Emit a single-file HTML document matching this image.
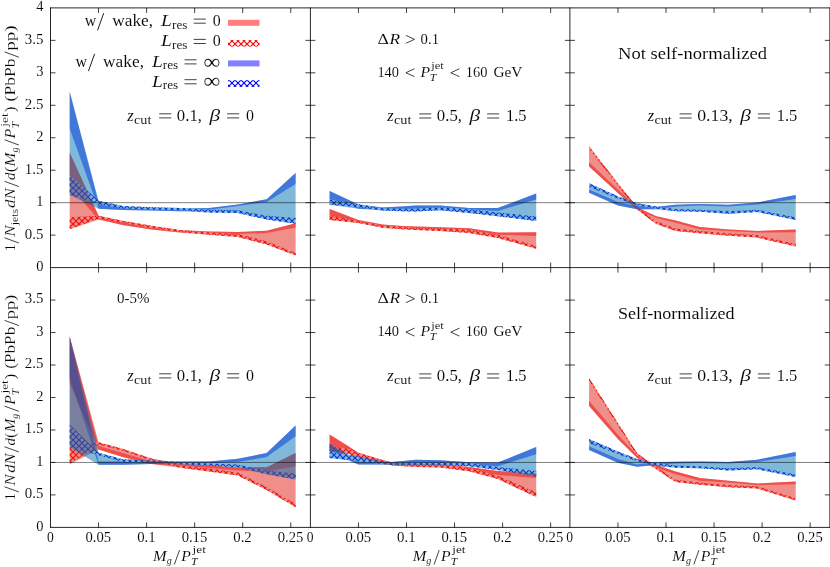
<!DOCTYPE html>
<html><head><meta charset="utf-8"><title>chart</title>
<style>html,body{margin:0;padding:0;background:#fff}svg{display:block}text{font-family:"Liberation Serif",serif}</style></head>
<body>
<svg width="830" height="567" viewBox="0 0 830 567">
<defs>
<pattern id="hr" width="6" height="6" patternUnits="userSpaceOnUse" patternTransform="translate(1.0,2.0)"><path d="M-1,-1L7,7M-1,7L7,-1" stroke="#ff0000" stroke-width="1.15" fill="none"/></pattern>
<pattern id="hb" width="6" height="6" patternUnits="userSpaceOnUse" patternTransform="translate(1.0,2.0)"><path d="M-1,-1L7,7M-1,7L7,-1" stroke="#0000ff" stroke-width="1.15" fill="none"/></pattern>
</defs>
<rect width="830" height="567" fill="#fff"/>
<polygon points="69.7,152.7 98.6,215.7 122.6,222.2 151.4,226.7 180.2,230.3 209.1,231.5 237.9,232.0 266.7,230.7 295.6,223.2 295.6,227.5 266.7,233.0 237.9,234.0 209.1,233.8 180.2,232.6 151.4,229.6 122.6,225.0 98.6,219.6 69.7,186.4" fill="#ff0000" fill-opacity="0.50"/>
<polygon points="69.7,217.2 98.6,215.7 122.6,220.7 151.4,225.7 180.2,229.9 209.1,232.5 237.9,234.0 266.7,241.2 295.6,253.0 295.6,255.6 266.7,244.6 237.9,236.9 209.1,234.7 180.2,232.0 151.4,227.9 122.6,222.8 98.6,218.6 69.7,229.3" fill="#fff"/><polygon points="69.7,217.2 98.6,215.7 122.6,220.7 151.4,225.7 180.2,229.9 209.1,232.5 237.9,234.0 266.7,241.2 295.6,253.0 295.6,255.6 266.7,244.6 237.9,236.9 209.1,234.7 180.2,232.0 151.4,227.9 122.6,222.8 98.6,218.6 69.7,229.3" fill="url(#hr)"/>
<polygon points="69.7,91.7 98.6,203.0 122.6,207.5 151.4,208.5 180.2,209.2 209.1,207.9 237.9,204.4 266.7,199.2 295.6,173.0 295.6,184.0 266.7,202.0 237.9,206.0 209.1,209.8 180.2,211.2 151.4,210.6 122.6,210.1 98.6,208.8 69.7,128.7" fill="#0000ff" fill-opacity="0.50"/>
<polygon points="69.7,174.8 98.6,200.7 122.6,206.0 151.4,207.3 180.2,208.1 209.1,209.8 237.9,210.3 266.7,215.7 295.6,217.9 295.6,223.8 266.7,219.6 237.9,213.1 209.1,212.5 180.2,210.2 151.4,209.4 122.6,208.5 98.6,204.3 69.7,194.9" fill="#fff"/><polygon points="69.7,174.8 98.6,200.7 122.6,206.0 151.4,207.3 180.2,208.1 209.1,209.8 237.9,210.3 266.7,215.7 295.6,217.9 295.6,223.8 266.7,219.6 237.9,213.1 209.1,212.5 180.2,210.2 151.4,209.4 122.6,208.5 98.6,204.3 69.7,194.9" fill="url(#hb)"/>
<polygon points="69.7,152.7 98.6,215.7 122.6,220.7 151.4,225.7 180.2,229.9 209.1,231.5 237.9,232.0 266.7,230.7 295.6,223.2 295.6,255.6 266.7,244.6 237.9,236.9 209.1,234.7 180.2,232.6 151.4,229.6 122.6,225.0 98.6,219.6 69.7,229.3" fill="#e11e14" fill-opacity="0.50"/>
<polygon points="69.7,91.7 98.6,200.7 122.6,206.0 151.4,207.3 180.2,208.1 209.1,207.9 237.9,204.4 266.7,199.2 295.6,173.0 295.6,223.8 266.7,219.6 237.9,213.1 209.1,212.5 180.2,211.2 151.4,210.6 122.6,210.1 98.6,208.8 69.7,194.9" fill="#0071b3" fill-opacity="0.50"/>
<polygon points="329.6,209.0 358.4,219.9 382.5,224.4 401.7,226.0 416.1,226.6 440.1,227.2 469.0,228.3 497.8,232.6 536.2,232.2 536.2,235.9 497.8,234.7 469.0,230.1 440.1,228.6 416.1,228.5 401.7,228.0 382.5,226.4 358.4,222.2 329.6,215.7" fill="#ff0000" fill-opacity="0.50"/>
<polygon points="329.6,215.7 358.4,220.9 382.5,225.4 401.7,227.0 416.1,227.7 440.1,228.0 469.0,230.1 497.8,234.7 536.2,246.0 536.2,248.8 497.8,238.0 469.0,233.1 440.1,230.9 416.1,229.9 401.7,229.3 382.5,227.7 358.4,223.1 329.6,219.9" fill="#fff"/><polygon points="329.6,215.7 358.4,220.9 382.5,225.4 401.7,227.0 416.1,227.7 440.1,228.0 469.0,230.1 497.8,234.7 536.2,246.0 536.2,248.8 497.8,238.0 469.0,233.1 440.1,230.9 416.1,229.9 401.7,229.3 382.5,227.7 358.4,223.1 329.6,219.9" fill="url(#hr)"/>
<polygon points="329.6,190.9 358.4,204.8 382.5,207.6 401.7,206.6 416.1,205.4 440.1,205.4 469.0,207.9 497.8,208.1 536.2,193.4 536.2,199.6 497.8,210.9 469.0,209.2 440.1,207.6 416.1,208.7 401.7,209.2 382.5,209.5 358.4,208.8 329.6,198.9" fill="#0000ff" fill-opacity="0.50"/>
<polygon points="329.6,199.6 358.4,204.3 382.5,208.2 401.7,208.8 416.1,208.7 440.1,207.3 469.0,209.2 497.8,212.5 536.2,216.6 536.2,220.9 497.8,216.3 469.0,213.1 440.1,210.3 416.1,211.4 401.7,211.2 382.5,210.5 358.4,207.2 329.6,204.8" fill="#fff"/><polygon points="329.6,199.6 358.4,204.3 382.5,208.2 401.7,208.8 416.1,208.7 440.1,207.3 469.0,209.2 497.8,212.5 536.2,216.6 536.2,220.9 497.8,216.3 469.0,213.1 440.1,210.3 416.1,211.4 401.7,211.2 382.5,210.5 358.4,207.2 329.6,204.8" fill="url(#hb)"/>
<polygon points="329.6,209.0 358.4,219.9 382.5,224.4 401.7,226.0 416.1,226.6 440.1,227.2 469.0,228.3 497.8,232.6 536.2,232.2 536.2,248.8 497.8,238.0 469.0,233.1 440.1,230.9 416.1,229.9 401.7,229.3 382.5,227.7 358.4,223.1 329.6,219.9" fill="#e11e14" fill-opacity="0.50"/>
<polygon points="329.6,190.9 358.4,204.3 382.5,207.6 401.7,206.6 416.1,205.4 440.1,205.4 469.0,207.9 497.8,208.1 536.2,193.4 536.2,220.9 497.8,216.3 469.0,213.1 440.1,210.3 416.1,211.4 401.7,211.2 382.5,210.5 358.4,208.8 329.6,204.8" fill="#0071b3" fill-opacity="0.50"/>
<polygon points="589.1,162.2 617.9,189.5 637.2,207.5 656.4,216.2 675.6,220.5 699.6,227.0 728.5,229.4 757.3,231.0 795.7,229.4 795.7,232.2 757.3,232.5 728.5,230.9 699.6,229.2 675.6,222.7 656.4,217.9 637.2,209.5 617.9,193.1 589.1,166.6" fill="#ff0000" fill-opacity="0.50"/>
<polygon points="589.1,146.3 617.9,183.2 637.2,207.2 656.4,221.6 675.6,228.6 699.6,230.9 728.5,233.2 757.3,235.1 795.7,243.9 795.7,246.4 757.3,237.6 728.5,235.7 699.6,233.2 675.6,231.0 656.4,224.0 637.2,209.7 617.9,185.8 589.1,148.9" fill="#fff"/><polygon points="589.1,146.3 617.9,183.2 637.2,207.2 656.4,221.6 675.6,228.6 699.6,230.9 728.5,233.2 757.3,235.1 795.7,243.9 795.7,246.4 757.3,237.6 728.5,235.7 699.6,233.2 675.6,231.0 656.4,224.0 637.2,209.7 617.9,185.8 589.1,148.9" fill="url(#hr)"/>
<polygon points="589.1,189.5 617.9,201.9 637.2,205.9 656.4,206.9 675.6,204.8 699.6,204.0 728.5,204.8 757.3,202.5 795.7,194.9 795.7,198.9 757.3,204.4 728.5,206.4 699.6,205.5 675.6,206.4 656.4,209.2 637.2,209.2 617.9,205.4 589.1,192.7" fill="#0000ff" fill-opacity="0.50"/>
<polygon points="589.1,183.3 617.9,196.2 637.2,203.3 656.4,206.4 675.6,209.1 699.6,209.7 728.5,211.2 757.3,209.8 795.7,217.3 795.7,219.9 757.3,212.1 728.5,213.7 699.6,211.8 675.6,211.3 656.4,208.8 637.2,205.6 617.9,198.5 589.1,186.9" fill="#fff"/><polygon points="589.1,183.3 617.9,196.2 637.2,203.3 656.4,206.4 675.6,209.1 699.6,209.7 728.5,211.2 757.3,209.8 795.7,217.3 795.7,219.9 757.3,212.1 728.5,213.7 699.6,211.8 675.6,211.3 656.4,208.8 637.2,205.6 617.9,198.5 589.1,186.9" fill="url(#hb)"/>
<polygon points="589.1,146.3 617.9,183.2 637.2,207.2 656.4,216.2 675.6,220.5 699.6,227.0 728.5,229.4 757.3,231.0 795.7,229.4 795.7,246.4 757.3,237.6 728.5,235.7 699.6,233.2 675.6,231.0 656.4,224.0 637.2,209.7 617.9,193.1 589.1,166.6" fill="#e11e14" fill-opacity="0.50"/>
<polygon points="589.1,183.3 617.9,196.2 637.2,203.3 656.4,206.4 675.6,204.8 699.6,204.0 728.5,204.8 757.3,202.5 795.7,194.9 795.7,219.9 757.3,212.1 728.5,213.7 699.6,211.8 675.6,211.3 656.4,209.2 637.2,209.2 617.9,205.4 589.1,192.7" fill="#0071b3" fill-opacity="0.50"/>
<polygon points="69.7,336.4 98.6,445.9 122.6,453.0 151.4,461.2 180.2,463.5 209.1,465.4 237.9,467.2 266.7,467.2 295.6,453.1 295.6,466.3 266.7,471.6 237.9,470.6 209.1,468.1 180.2,465.9 151.4,464.1 122.6,456.9 98.6,449.5 69.7,383.2" fill="#ff0000" fill-opacity="0.50"/>
<polygon points="69.7,447.4 98.6,442.3 122.6,448.8 151.4,458.6 180.2,465.4 209.1,468.6 237.9,472.5 266.7,487.1 295.6,504.0 295.6,507.3 266.7,490.1 237.9,475.4 209.1,471.4 180.2,467.8 151.4,460.5 122.6,450.8 98.6,444.4 69.7,464.3" fill="#fff"/><polygon points="69.7,447.4 98.6,442.3 122.6,448.8 151.4,458.6 180.2,465.4 209.1,468.6 237.9,472.5 266.7,487.1 295.6,504.0 295.6,507.3 266.7,490.1 237.9,475.4 209.1,471.4 180.2,467.8 151.4,460.5 122.6,450.8 98.6,444.4 69.7,464.3" fill="url(#hr)"/>
<polygon points="69.7,337.1 98.6,461.4 122.6,461.4 151.4,461.7 180.2,461.6 209.1,461.6 237.9,458.7 266.7,453.1 295.6,425.4 295.6,436.3 266.7,457.1 237.9,461.9 209.1,463.2 180.2,463.5 151.4,464.1 122.6,464.7 98.6,464.7 69.7,378.0" fill="#0000ff" fill-opacity="0.50"/>
<polygon points="69.7,424.8 98.6,452.7 122.6,459.2 151.4,460.5 180.2,462.1 209.1,463.5 237.9,464.5 266.7,470.7 295.6,473.4 295.6,479.5 266.7,474.3 237.9,467.2 209.1,465.7 180.2,464.3 151.4,462.8 122.6,461.7 98.6,455.3 69.7,447.4" fill="#fff"/><polygon points="69.7,424.8 98.6,452.7 122.6,459.2 151.4,460.5 180.2,462.1 209.1,463.5 237.9,464.5 266.7,470.7 295.6,473.4 295.6,479.5 266.7,474.3 237.9,467.2 209.1,465.7 180.2,464.3 151.4,462.8 122.6,461.7 98.6,455.3 69.7,447.4" fill="url(#hb)"/>
<polygon points="69.7,336.4 98.6,442.3 122.6,448.8 151.4,458.6 180.2,463.5 209.1,465.4 237.9,467.2 266.7,467.2 295.6,453.1 295.6,507.3 266.7,490.1 237.9,475.4 209.1,471.4 180.2,467.8 151.4,464.1 122.6,456.9 98.6,449.5 69.7,464.3" fill="#e11e14" fill-opacity="0.50"/>
<polygon points="69.7,337.1 98.6,452.7 122.6,459.2 151.4,460.5 180.2,461.6 209.1,461.6 237.9,458.7 266.7,453.1 295.6,425.4 295.6,479.5 266.7,474.3 237.9,467.2 209.1,465.7 180.2,464.3 151.4,464.1 122.6,464.7 98.6,464.7 69.7,447.4" fill="#0071b3" fill-opacity="0.50"/>
<polygon points="329.6,434.5 348.8,446.6 358.4,452.7 382.5,459.9 392.1,462.4 416.1,463.7 440.1,464.1 469.0,467.0 497.8,470.9 536.2,473.3 536.2,478.0 497.8,474.9 469.0,469.9 440.1,466.3 416.1,466.0 392.1,464.7 382.5,462.4 358.4,456.0 348.8,454.0 329.6,450.1" fill="#ff0000" fill-opacity="0.50"/>
<polygon points="329.6,445.6 348.8,449.1 358.4,452.7 382.5,460.2 392.1,462.8 416.1,464.1 440.1,464.5 469.0,467.7 497.8,475.7 536.2,492.3 536.2,497.1 497.8,479.1 469.0,471.2 440.1,467.5 416.1,467.0 392.1,465.4 382.5,463.4 358.4,457.3 348.8,454.0 329.6,451.1" fill="#fff"/><polygon points="329.6,445.6 348.8,449.1 358.4,452.7 382.5,460.2 392.1,462.8 416.1,464.1 440.1,464.5 469.0,467.7 497.8,475.7 536.2,492.3 536.2,497.1 497.8,479.1 469.0,471.2 440.1,467.5 416.1,467.0 392.1,465.4 382.5,463.4 358.4,457.3 348.8,454.0 329.6,451.1" fill="url(#hr)"/>
<polygon points="329.6,443.8 348.8,456.0 358.4,462.1 382.5,461.8 392.1,462.1 416.1,459.7 440.1,460.2 469.0,462.2 497.8,462.6 536.2,447.1 536.2,454.2 497.8,466.2 469.0,464.5 440.1,462.9 416.1,462.4 392.1,464.7 382.5,464.5 358.4,464.5 348.8,460.2 329.6,451.4" fill="#0000ff" fill-opacity="0.50"/>
<polygon points="329.6,451.4 348.8,454.7 358.4,456.3 382.5,461.3 392.1,462.4 416.1,462.4 440.1,461.9 469.0,463.0 497.8,467.0 536.2,470.9 536.2,476.4 497.8,470.1 469.0,466.2 440.1,465.0 416.1,465.0 392.1,464.9 382.5,464.1 358.4,461.2 348.8,460.1 329.6,457.9" fill="#fff"/><polygon points="329.6,451.4 348.8,454.7 358.4,456.3 382.5,461.3 392.1,462.4 416.1,462.4 440.1,461.9 469.0,463.0 497.8,467.0 536.2,470.9 536.2,476.4 497.8,470.1 469.0,466.2 440.1,465.0 416.1,465.0 392.1,464.9 382.5,464.1 358.4,461.2 348.8,460.1 329.6,457.9" fill="url(#hb)"/>
<polygon points="329.6,434.5 348.8,446.6 358.4,452.7 382.5,459.9 392.1,462.4 416.1,463.7 440.1,464.1 469.0,467.0 497.8,470.9 536.2,473.3 536.2,497.1 497.8,479.1 469.0,471.2 440.1,467.5 416.1,467.0 392.1,465.4 382.5,463.4 358.4,457.3 348.8,454.0 329.6,451.1" fill="#e11e14" fill-opacity="0.50"/>
<polygon points="329.6,443.8 348.8,454.7 358.4,456.3 382.5,461.3 392.1,462.1 416.1,459.7 440.1,460.2 469.0,462.2 497.8,462.6 536.2,447.1 536.2,476.4 497.8,470.1 469.0,466.2 440.1,465.0 416.1,465.0 392.1,464.9 382.5,464.5 358.4,464.5 348.8,460.2 329.6,457.9" fill="#0071b3" fill-opacity="0.50"/>
<polygon points="589.1,400.8 617.9,434.7 637.2,455.3 650.9,463.1 675.6,471.6 699.6,478.1 728.5,480.7 757.3,483.6 795.7,481.4 795.7,484.3 757.3,485.1 728.5,482.5 699.6,480.8 675.6,474.3 650.9,465.4 637.2,458.0 617.9,438.9 589.1,406.1" fill="#ff0000" fill-opacity="0.50"/>
<polygon points="589.1,378.1 617.9,423.0 637.2,453.2 650.9,463.4 675.6,479.7 699.6,482.5 728.5,484.9 757.3,486.2 795.7,498.2 795.7,500.6 757.3,488.6 728.5,487.2 699.6,484.8 675.6,482.1 650.9,465.8 637.2,455.8 617.9,425.7 589.1,380.8" fill="#fff"/><polygon points="589.1,378.1 617.9,423.0 637.2,453.2 650.9,463.4 675.6,479.7 699.6,482.5 728.5,484.9 757.3,486.2 795.7,498.2 795.7,500.6 757.3,488.6 728.5,487.2 699.6,484.8 675.6,482.1 650.9,465.8 637.2,455.8 617.9,425.7 589.1,380.8" fill="url(#hr)"/>
<polygon points="589.1,446.3 617.9,459.0 637.2,464.5 650.9,462.4 675.6,461.8 699.6,461.6 728.5,461.9 757.3,459.7 795.7,452.1 795.7,456.1 757.3,461.9 728.5,463.6 699.6,463.1 675.6,463.4 650.9,465.4 637.2,466.7 617.9,462.8 589.1,450.1" fill="#0000ff" fill-opacity="0.50"/>
<polygon points="589.1,438.9 617.9,451.6 637.2,459.1 650.9,462.1 675.6,465.6 699.6,466.2 728.5,468.3 757.3,467.0 795.7,474.5 795.7,477.1 757.3,469.3 728.5,470.6 699.6,468.3 675.6,467.8 650.9,464.7 637.2,461.3 617.9,454.0 589.1,443.2" fill="#fff"/><polygon points="589.1,438.9 617.9,451.6 637.2,459.1 650.9,462.1 675.6,465.6 699.6,466.2 728.5,468.3 757.3,467.0 795.7,474.5 795.7,477.1 757.3,469.3 728.5,470.6 699.6,468.3 675.6,467.8 650.9,464.7 637.2,461.3 617.9,454.0 589.1,443.2" fill="url(#hb)"/>
<polygon points="589.1,378.1 617.9,423.0 637.2,453.2 650.9,463.1 675.6,471.6 699.6,478.1 728.5,480.7 757.3,483.6 795.7,481.4 795.7,500.6 757.3,488.6 728.5,487.2 699.6,484.8 675.6,482.1 650.9,465.8 637.2,458.0 617.9,438.9 589.1,406.1" fill="#e11e14" fill-opacity="0.50"/>
<polygon points="589.1,438.9 617.9,451.6 637.2,459.1 650.9,462.1 675.6,461.8 699.6,461.6 728.5,461.9 757.3,459.7 795.7,452.1 795.7,477.1 757.3,469.3 728.5,470.6 699.6,468.3 675.6,467.8 650.9,465.4 637.2,466.7 617.9,462.8 589.1,450.1" fill="#0071b3" fill-opacity="0.50"/>
<path d="M50.5,202.68H829.9" stroke="#000" stroke-width="0.5"/>
<path d="M50.5,462.45H829.9" stroke="#000" stroke-width="0.5"/>
<path d="M50.10,7.90H830.25M50.10,267.60H830.25M50.10,527.40H830.25M50.50,7.50V527.80M310.40,7.50V527.80M569.90,7.50V527.80M829.85,7.50V527.80" stroke="#000" stroke-width="0.85" fill="none"/>
<path d="M98.55,7.90v5.00M98.55,262.60v10.00M98.55,527.40v-5.00M146.60,7.90v5.00M146.60,262.60v10.00M146.60,527.40v-5.00M194.65,7.90v5.00M194.65,262.60v10.00M194.65,527.40v-5.00M242.70,7.90v5.00M242.70,262.60v10.00M242.70,527.40v-5.00M290.75,7.90v5.00M290.75,262.60v10.00M290.75,527.40v-5.00M358.45,7.90v5.00M358.45,262.60v10.00M358.45,527.40v-5.00M406.50,7.90v5.00M406.50,262.60v10.00M406.50,527.40v-5.00M454.55,7.90v5.00M454.55,262.60v10.00M454.55,527.40v-5.00M502.60,7.90v5.00M502.60,262.60v10.00M502.60,527.40v-5.00M550.65,7.90v5.00M550.65,262.60v10.00M550.65,527.40v-5.00M617.95,7.90v5.00M617.95,262.60v10.00M617.95,527.40v-5.00M666.00,7.90v5.00M666.00,262.60v10.00M666.00,527.40v-5.00M714.05,7.90v5.00M714.05,262.60v10.00M714.05,527.40v-5.00M762.10,7.90v5.00M762.10,262.60v10.00M762.10,527.40v-5.00M810.15,7.90v5.00M810.15,262.60v10.00M810.15,527.40v-5.00M50.50,235.14h5.00M305.40,235.14h10.00M564.90,235.14h10.00M829.85,235.14h-5.00M50.50,202.68h5.00M305.40,202.68h10.00M564.90,202.68h10.00M829.85,202.68h-5.00M50.50,170.21h5.00M305.40,170.21h10.00M564.90,170.21h10.00M829.85,170.21h-5.00M50.50,137.75h5.00M305.40,137.75h10.00M564.90,137.75h10.00M829.85,137.75h-5.00M50.50,105.29h5.00M305.40,105.29h10.00M564.90,105.29h10.00M829.85,105.29h-5.00M50.50,72.82h5.00M305.40,72.82h10.00M564.90,72.82h10.00M829.85,72.82h-5.00M50.50,40.36h5.00M305.40,40.36h10.00M564.90,40.36h10.00M829.85,40.36h-5.00M50.50,494.92h5.00M305.40,494.92h10.00M564.90,494.92h10.00M829.85,494.92h-5.00M50.50,462.45h5.00M305.40,462.45h10.00M564.90,462.45h10.00M829.85,462.45h-5.00M50.50,429.98h5.00M305.40,429.98h10.00M564.90,429.98h10.00M829.85,429.98h-5.00M50.50,397.50h5.00M305.40,397.50h10.00M564.90,397.50h10.00M829.85,397.50h-5.00M50.50,365.02h5.00M305.40,365.02h10.00M564.90,365.02h10.00M829.85,365.02h-5.00M50.50,332.55h5.00M305.40,332.55h10.00M564.90,332.55h10.00M829.85,332.55h-5.00M50.50,300.08h5.00M305.40,300.08h10.00M564.90,300.08h10.00M829.85,300.08h-5.00" stroke="#000" stroke-width="0.75" fill="none"/>
<g font-family='"Liberation Serif", serif' fill="#000" stroke="#fff" stroke-width="0.08" opacity="0.99">
<text x="36.20" y="11.30" font-size="14.40" textLength="7.20" lengthAdjust="spacingAndGlyphs">4</text>
<text x="24.80" y="43.76" font-size="14.40" textLength="18.60" lengthAdjust="spacingAndGlyphs">3.5</text>
<text x="36.20" y="76.22" font-size="14.40" textLength="7.20" lengthAdjust="spacingAndGlyphs">3</text>
<text x="24.80" y="108.69" font-size="14.40" textLength="18.60" lengthAdjust="spacingAndGlyphs">2.5</text>
<text x="36.20" y="141.15" font-size="14.40" textLength="7.20" lengthAdjust="spacingAndGlyphs">2</text>
<text x="24.80" y="173.61" font-size="14.40" textLength="18.60" lengthAdjust="spacingAndGlyphs">1.5</text>
<text x="36.20" y="206.08" font-size="14.40" textLength="7.20" lengthAdjust="spacingAndGlyphs">1</text>
<text x="24.80" y="238.54" font-size="14.40" textLength="18.60" lengthAdjust="spacingAndGlyphs">0.5</text>
<text x="36.20" y="271.00" font-size="14.40" textLength="7.20" lengthAdjust="spacingAndGlyphs">0</text>
<text x="24.80" y="303.48" font-size="14.40" textLength="18.60" lengthAdjust="spacingAndGlyphs">3.5</text>
<text x="36.20" y="335.95" font-size="14.40" textLength="7.20" lengthAdjust="spacingAndGlyphs">3</text>
<text x="24.80" y="368.42" font-size="14.40" textLength="18.60" lengthAdjust="spacingAndGlyphs">2.5</text>
<text x="36.20" y="400.90" font-size="14.40" textLength="7.20" lengthAdjust="spacingAndGlyphs">2</text>
<text x="24.80" y="433.38" font-size="14.40" textLength="18.60" lengthAdjust="spacingAndGlyphs">1.5</text>
<text x="36.20" y="465.85" font-size="14.40" textLength="7.20" lengthAdjust="spacingAndGlyphs">1</text>
<text x="24.80" y="498.32" font-size="14.40" textLength="18.60" lengthAdjust="spacingAndGlyphs">0.5</text>
<text x="36.20" y="530.80" font-size="14.40" textLength="7.20" lengthAdjust="spacingAndGlyphs">0</text>
<text x="46.90" y="542.40" font-size="14.40" textLength="6.80" lengthAdjust="spacingAndGlyphs">0</text>
<text x="85.55" y="542.40" font-size="14.40" textLength="25.60" lengthAdjust="spacingAndGlyphs">0.05</text>
<text x="137.15" y="542.40" font-size="14.40" textLength="18.50" lengthAdjust="spacingAndGlyphs">0.1</text>
<text x="181.65" y="542.40" font-size="14.40" textLength="25.60" lengthAdjust="spacingAndGlyphs">0.15</text>
<text x="233.25" y="542.40" font-size="14.40" textLength="18.50" lengthAdjust="spacingAndGlyphs">0.2</text>
<text x="277.75" y="542.40" font-size="14.40" textLength="25.60" lengthAdjust="spacingAndGlyphs">0.25</text>
<text x="306.80" y="542.40" font-size="14.40" textLength="6.80" lengthAdjust="spacingAndGlyphs">0</text>
<text x="345.45" y="542.40" font-size="14.40" textLength="25.60" lengthAdjust="spacingAndGlyphs">0.05</text>
<text x="397.05" y="542.40" font-size="14.40" textLength="18.50" lengthAdjust="spacingAndGlyphs">0.1</text>
<text x="441.55" y="542.40" font-size="14.40" textLength="25.60" lengthAdjust="spacingAndGlyphs">0.15</text>
<text x="493.15" y="542.40" font-size="14.40" textLength="18.50" lengthAdjust="spacingAndGlyphs">0.2</text>
<text x="537.65" y="542.40" font-size="14.40" textLength="25.60" lengthAdjust="spacingAndGlyphs">0.25</text>
<text x="566.30" y="542.40" font-size="14.40" textLength="6.80" lengthAdjust="spacingAndGlyphs">0</text>
<text x="604.95" y="542.40" font-size="14.40" textLength="25.60" lengthAdjust="spacingAndGlyphs">0.05</text>
<text x="656.55" y="542.40" font-size="14.40" textLength="18.50" lengthAdjust="spacingAndGlyphs">0.1</text>
<text x="701.05" y="542.40" font-size="14.40" textLength="25.60" lengthAdjust="spacingAndGlyphs">0.15</text>
<text x="752.65" y="542.40" font-size="14.40" textLength="18.50" lengthAdjust="spacingAndGlyphs">0.2</text>
<text x="797.15" y="542.40" font-size="14.40" textLength="25.60" lengthAdjust="spacingAndGlyphs">0.25</text>
<text x="152.95" y="560.90" font-size="14.40" font-style="italic" textLength="13.60" lengthAdjust="spacingAndGlyphs">M</text>
<text x="166.65" y="563.50" font-size="10.10" font-style="italic" textLength="5.00" lengthAdjust="spacingAndGlyphs">g</text>
<path d="M174.36,564.50L179.54,550.10" stroke="#000" stroke-width="0.75" fill="none"/>
<text x="181.25" y="560.90" font-size="14.40" font-style="italic" textLength="9.60" lengthAdjust="spacingAndGlyphs">P</text>
<text x="190.95" y="564.80" font-size="10.10" font-style="italic" textLength="6.60" lengthAdjust="spacingAndGlyphs">T</text>
<text x="192.55" y="553.20" font-size="10.10" textLength="13.30" lengthAdjust="spacingAndGlyphs">jet</text>
<text x="412.65" y="560.90" font-size="14.40" font-style="italic" textLength="13.60" lengthAdjust="spacingAndGlyphs">M</text>
<text x="426.35" y="563.50" font-size="10.10" font-style="italic" textLength="5.00" lengthAdjust="spacingAndGlyphs">g</text>
<path d="M434.06,564.50L439.24,550.10" stroke="#000" stroke-width="0.75" fill="none"/>
<text x="440.95" y="560.90" font-size="14.40" font-style="italic" textLength="9.60" lengthAdjust="spacingAndGlyphs">P</text>
<text x="450.65" y="564.80" font-size="10.10" font-style="italic" textLength="6.60" lengthAdjust="spacingAndGlyphs">T</text>
<text x="452.25" y="553.20" font-size="10.10" textLength="13.30" lengthAdjust="spacingAndGlyphs">jet</text>
<text x="672.38" y="560.90" font-size="14.40" font-style="italic" textLength="13.60" lengthAdjust="spacingAndGlyphs">M</text>
<text x="686.08" y="563.50" font-size="10.10" font-style="italic" textLength="5.00" lengthAdjust="spacingAndGlyphs">g</text>
<path d="M693.78,564.50L698.97,550.10" stroke="#000" stroke-width="0.75" fill="none"/>
<text x="700.67" y="560.90" font-size="14.40" font-style="italic" textLength="9.60" lengthAdjust="spacingAndGlyphs">P</text>
<text x="710.38" y="564.80" font-size="10.10" font-style="italic" textLength="6.60" lengthAdjust="spacingAndGlyphs">T</text>
<text x="711.98" y="553.20" font-size="10.10" textLength="13.30" lengthAdjust="spacingAndGlyphs">jet</text>
<g transform="translate(15.3,138.30) rotate(-90)" stroke-width="0.12">
<text x="-112.70" y="0.00" font-size="14.40" textLength="6.60" lengthAdjust="spacingAndGlyphs">1</text>
<path d="M-104.69,3.60L-99.51,-10.80" stroke="#000" stroke-width="0.75" fill="none"/>
<text x="-98.50" y="0.00" font-size="14.40" font-style="italic" textLength="11.30" lengthAdjust="spacingAndGlyphs">N</text>
<text x="-86.90" y="2.40" font-size="10.10" textLength="16.40" lengthAdjust="spacingAndGlyphs">jets</text>
<g transform="translate(-69.60,0) scale(1.0236,1)">
<text x="0.00" y="0.00" font-size="14.40" font-style="italic" textLength="19.40" lengthAdjust="spacingAndGlyphs">dN</text>
<path d="M20.81,3.60L25.99,-10.80" stroke="#000" stroke-width="0.75" fill="none"/>
<text x="27.20" y="0.00" font-size="14.40" font-style="italic" textLength="7.40" lengthAdjust="spacingAndGlyphs">d</text>
<text x="34.80" y="0.00" font-size="14.40" textLength="5.40" lengthAdjust="spacingAndGlyphs">(</text>
<text x="40.40" y="0.00" font-size="14.40" font-style="italic" textLength="13.60" lengthAdjust="spacingAndGlyphs">M</text>
<text x="54.10" y="2.60" font-size="10.10" font-style="italic" textLength="5.00" lengthAdjust="spacingAndGlyphs">g</text>
<path d="M61.41,3.60L66.59,-10.80" stroke="#000" stroke-width="0.75" fill="none"/>
<text x="67.90" y="0.00" font-size="14.40" font-style="italic" textLength="9.60" lengthAdjust="spacingAndGlyphs">P</text>
<text x="77.60" y="3.90" font-size="10.10" font-style="italic" textLength="6.60" lengthAdjust="spacingAndGlyphs">T</text>
<text x="79.20" y="-7.70" font-size="10.10" textLength="13.30" lengthAdjust="spacingAndGlyphs">jet</text>
<text x="93.60" y="0.00" font-size="14.40" textLength="5.40" lengthAdjust="spacingAndGlyphs">)</text>
<text x="104.00" y="0.00" font-size="14.40" textLength="42.00" lengthAdjust="spacingAndGlyphs">(PbPb</text>
<path d="M147.21,3.60L152.39,-10.80" stroke="#000" stroke-width="0.75" fill="none"/>
<text x="153.60" y="0.00" font-size="14.40" textLength="24.60" lengthAdjust="spacingAndGlyphs">pp)</text>
</g></g>
<g transform="translate(15.3,397.30) rotate(-90)" stroke-width="0.12">
<text x="-102.65" y="0.00" font-size="14.40" textLength="6.60" lengthAdjust="spacingAndGlyphs">1</text>
<path d="M-94.64,3.60L-89.46,-10.80" stroke="#000" stroke-width="0.75" fill="none"/>
<text x="-88.45" y="0.00" font-size="14.40" font-style="italic" textLength="11.30" lengthAdjust="spacingAndGlyphs">N</text>
<g transform="translate(-75.45,0) scale(1.0000,1)">
<text x="0.00" y="0.00" font-size="14.40" font-style="italic" textLength="19.40" lengthAdjust="spacingAndGlyphs">dN</text>
<path d="M20.81,3.60L25.99,-10.80" stroke="#000" stroke-width="0.75" fill="none"/>
<text x="27.20" y="0.00" font-size="14.40" font-style="italic" textLength="7.40" lengthAdjust="spacingAndGlyphs">d</text>
<text x="34.80" y="0.00" font-size="14.40" textLength="5.40" lengthAdjust="spacingAndGlyphs">(</text>
<text x="40.40" y="0.00" font-size="14.40" font-style="italic" textLength="13.60" lengthAdjust="spacingAndGlyphs">M</text>
<text x="54.10" y="2.60" font-size="10.10" font-style="italic" textLength="5.00" lengthAdjust="spacingAndGlyphs">g</text>
<path d="M61.41,3.60L66.59,-10.80" stroke="#000" stroke-width="0.75" fill="none"/>
<text x="67.90" y="0.00" font-size="14.40" font-style="italic" textLength="9.60" lengthAdjust="spacingAndGlyphs">P</text>
<text x="77.60" y="3.90" font-size="10.10" font-style="italic" textLength="6.60" lengthAdjust="spacingAndGlyphs">T</text>
<text x="79.20" y="-7.70" font-size="10.10" textLength="13.30" lengthAdjust="spacingAndGlyphs">jet</text>
<text x="93.60" y="0.00" font-size="14.40" textLength="5.40" lengthAdjust="spacingAndGlyphs">)</text>
<text x="104.00" y="0.00" font-size="14.40" textLength="42.00" lengthAdjust="spacingAndGlyphs">(PbPb</text>
<path d="M147.21,3.60L152.39,-10.80" stroke="#000" stroke-width="0.75" fill="none"/>
<text x="153.60" y="0.00" font-size="14.40" textLength="24.60" lengthAdjust="spacingAndGlyphs">pp)</text>
</g></g>
<text x="84.70" y="26.10" font-size="17.28" textLength="11.60" lengthAdjust="spacingAndGlyphs">w</text>
<path d="M97.51,30.42L103.73,13.14" stroke="#000" stroke-width="0.90" fill="none"/>
<text x="112.20" y="26.10" font-size="17.28" textLength="40.90" lengthAdjust="spacingAndGlyphs">wake,</text>
<text x="161.10" y="26.10" font-size="17.28" font-style="italic" textLength="10.80" lengthAdjust="spacingAndGlyphs">L</text>
<text x="172.00" y="28.70" font-size="12.10" textLength="15.40" lengthAdjust="spacingAndGlyphs">res</text>
<path d="M193.70,19.10h12.10M193.70,23.20h12.10" stroke="#000" stroke-width="0.76" fill="none"/>
<text x="212.70" y="26.10" font-size="17.28" textLength="8.00" lengthAdjust="spacingAndGlyphs">0</text>
<text x="161.10" y="46.40" font-size="17.28" font-style="italic" textLength="10.80" lengthAdjust="spacingAndGlyphs">L</text>
<text x="172.00" y="49.00" font-size="12.10" textLength="15.40" lengthAdjust="spacingAndGlyphs">res</text>
<path d="M193.70,39.40h12.10M193.70,43.50h12.10" stroke="#000" stroke-width="0.76" fill="none"/>
<text x="212.70" y="46.40" font-size="17.28" textLength="8.00" lengthAdjust="spacingAndGlyphs">0</text>
<text x="75.60" y="66.80" font-size="17.28" textLength="11.60" lengthAdjust="spacingAndGlyphs">w</text>
<path d="M88.41,71.12L94.63,53.84" stroke="#000" stroke-width="0.90" fill="none"/>
<text x="103.10" y="66.80" font-size="17.28" textLength="40.90" lengthAdjust="spacingAndGlyphs">wake,</text>
<text x="151.90" y="66.80" font-size="17.28" font-style="italic" textLength="10.80" lengthAdjust="spacingAndGlyphs">L</text>
<text x="162.80" y="69.40" font-size="12.10" textLength="15.40" lengthAdjust="spacingAndGlyphs">res</text>
<path d="M184.50,59.80h12.10M184.50,63.90h12.10" stroke="#000" stroke-width="0.76" fill="none"/>
<text x="203.40" y="68.50" font-size="21.50" textLength="16.80" lengthAdjust="spacingAndGlyphs">∞</text>
<text x="151.90" y="86.70" font-size="17.28" font-style="italic" textLength="10.80" lengthAdjust="spacingAndGlyphs">L</text>
<text x="162.80" y="89.30" font-size="12.10" textLength="15.40" lengthAdjust="spacingAndGlyphs">res</text>
<path d="M184.50,79.70h12.10M184.50,83.80h12.10" stroke="#000" stroke-width="0.76" fill="none"/>
<text x="203.40" y="88.40" font-size="21.50" textLength="16.80" lengthAdjust="spacingAndGlyphs">∞</text>
<text x="127.30" y="120.80" font-size="17.28" font-style="italic" textLength="6.40" lengthAdjust="spacingAndGlyphs">z</text>
<text x="134.00" y="123.50" font-size="12.10" textLength="17.40" lengthAdjust="spacingAndGlyphs">cut</text>
<path d="M159.20,113.80h12.10M159.20,117.90h12.10" stroke="#000" stroke-width="0.76" fill="none"/>
<text x="176.80" y="120.80" font-size="17.28" textLength="25.20" lengthAdjust="spacingAndGlyphs">0.1,</text>
<text x="209.40" y="120.80" font-size="17.28" font-style="italic" textLength="10.60" lengthAdjust="spacingAndGlyphs">β</text>
<path d="M227.10,113.80h12.10M227.10,117.90h12.10" stroke="#000" stroke-width="0.76" fill="none"/>
<text x="245.90" y="120.80" font-size="17.28" textLength="8.00" lengthAdjust="spacingAndGlyphs">0</text>
<text x="387.30" y="120.90" font-size="17.28" font-style="italic" textLength="6.40" lengthAdjust="spacingAndGlyphs">z</text>
<text x="394.00" y="123.60" font-size="12.10" textLength="17.40" lengthAdjust="spacingAndGlyphs">cut</text>
<path d="M419.20,113.90h12.10M419.20,118.00h12.10" stroke="#000" stroke-width="0.76" fill="none"/>
<text x="436.80" y="120.90" font-size="17.28" textLength="25.20" lengthAdjust="spacingAndGlyphs">0.5,</text>
<text x="469.40" y="120.90" font-size="17.28" font-style="italic" textLength="10.60" lengthAdjust="spacingAndGlyphs">β</text>
<path d="M487.10,113.90h12.10M487.10,118.00h12.10" stroke="#000" stroke-width="0.76" fill="none"/>
<text x="505.90" y="120.90" font-size="17.28" textLength="20.60" lengthAdjust="spacingAndGlyphs">1.5</text>
<text x="647.70" y="120.90" font-size="17.28" font-style="italic" textLength="6.40" lengthAdjust="spacingAndGlyphs">z</text>
<text x="654.40" y="123.60" font-size="12.10" textLength="17.40" lengthAdjust="spacingAndGlyphs">cut</text>
<path d="M679.60,113.90h12.10M679.60,118.00h12.10" stroke="#000" stroke-width="0.76" fill="none"/>
<text x="697.20" y="120.90" font-size="17.28" textLength="35.60" lengthAdjust="spacingAndGlyphs">0.13,</text>
<text x="740.20" y="120.90" font-size="17.28" font-style="italic" textLength="10.60" lengthAdjust="spacingAndGlyphs">β</text>
<path d="M757.90,113.90h12.10M757.90,118.00h12.10" stroke="#000" stroke-width="0.76" fill="none"/>
<text x="776.70" y="120.90" font-size="17.28" textLength="20.60" lengthAdjust="spacingAndGlyphs">1.5</text>
<text x="127.30" y="380.80" font-size="17.28" font-style="italic" textLength="6.40" lengthAdjust="spacingAndGlyphs">z</text>
<text x="134.00" y="383.50" font-size="12.10" textLength="17.40" lengthAdjust="spacingAndGlyphs">cut</text>
<path d="M159.20,373.80h12.10M159.20,377.90h12.10" stroke="#000" stroke-width="0.76" fill="none"/>
<text x="176.80" y="380.80" font-size="17.28" textLength="25.20" lengthAdjust="spacingAndGlyphs">0.1,</text>
<text x="209.40" y="380.80" font-size="17.28" font-style="italic" textLength="10.60" lengthAdjust="spacingAndGlyphs">β</text>
<path d="M227.10,373.80h12.10M227.10,377.90h12.10" stroke="#000" stroke-width="0.76" fill="none"/>
<text x="245.90" y="380.80" font-size="17.28" textLength="8.00" lengthAdjust="spacingAndGlyphs">0</text>
<text x="387.30" y="380.90" font-size="17.28" font-style="italic" textLength="6.40" lengthAdjust="spacingAndGlyphs">z</text>
<text x="394.00" y="383.60" font-size="12.10" textLength="17.40" lengthAdjust="spacingAndGlyphs">cut</text>
<path d="M419.20,373.90h12.10M419.20,378.00h12.10" stroke="#000" stroke-width="0.76" fill="none"/>
<text x="436.80" y="380.90" font-size="17.28" textLength="25.20" lengthAdjust="spacingAndGlyphs">0.5,</text>
<text x="469.40" y="380.90" font-size="17.28" font-style="italic" textLength="10.60" lengthAdjust="spacingAndGlyphs">β</text>
<path d="M487.10,373.90h12.10M487.10,378.00h12.10" stroke="#000" stroke-width="0.76" fill="none"/>
<text x="505.90" y="380.90" font-size="17.28" textLength="20.60" lengthAdjust="spacingAndGlyphs">1.5</text>
<text x="647.70" y="380.90" font-size="17.28" font-style="italic" textLength="6.40" lengthAdjust="spacingAndGlyphs">z</text>
<text x="654.40" y="383.60" font-size="12.10" textLength="17.40" lengthAdjust="spacingAndGlyphs">cut</text>
<path d="M679.60,373.90h12.10M679.60,378.00h12.10" stroke="#000" stroke-width="0.76" fill="none"/>
<text x="697.20" y="380.90" font-size="17.28" textLength="35.60" lengthAdjust="spacingAndGlyphs">0.13,</text>
<text x="740.20" y="380.90" font-size="17.28" font-style="italic" textLength="10.60" lengthAdjust="spacingAndGlyphs">β</text>
<path d="M757.90,373.90h12.10M757.90,378.00h12.10" stroke="#000" stroke-width="0.76" fill="none"/>
<text x="776.70" y="380.90" font-size="17.28" textLength="20.60" lengthAdjust="spacingAndGlyphs">1.5</text>
<text x="377.40" y="43.50" font-size="14.40" textLength="11.40" lengthAdjust="spacingAndGlyphs">Δ</text>
<text x="389.40" y="43.50" font-size="14.40" font-style="italic" textLength="10.60" lengthAdjust="spacingAndGlyphs">R</text>
<path d="M405.90,35.36L414.54,39.32L405.90,43.28" stroke="#000" stroke-width="0.75" fill="none" stroke-linejoin="miter"/>
<text x="420.60" y="43.50" font-size="14.40" textLength="18.40" lengthAdjust="spacingAndGlyphs">0.1</text>
<text x="377.40" y="76.90" font-size="14.40" textLength="21.60" lengthAdjust="spacingAndGlyphs">140</text>
<path d="M414.54,68.76L405.90,72.72L414.54,76.68" stroke="#000" stroke-width="0.75" fill="none" stroke-linejoin="miter"/>
<text x="420.50" y="76.90" font-size="14.40" font-style="italic" textLength="9.60" lengthAdjust="spacingAndGlyphs">P</text>
<text x="429.80" y="80.80" font-size="10.10" font-style="italic" textLength="6.60" lengthAdjust="spacingAndGlyphs">T</text>
<text x="431.30" y="69.20" font-size="10.10" textLength="12.50" lengthAdjust="spacingAndGlyphs">jet</text>
<path d="M459.44,68.76L450.80,72.72L459.44,76.68" stroke="#000" stroke-width="0.75" fill="none" stroke-linejoin="miter"/>
<text x="465.80" y="76.90" font-size="14.40" textLength="21.60" lengthAdjust="spacingAndGlyphs">160</text>
<text x="493.40" y="76.90" font-size="14.40" textLength="28.90" lengthAdjust="spacingAndGlyphs">GeV</text>
<text x="377.40" y="302.90" font-size="14.40" textLength="11.40" lengthAdjust="spacingAndGlyphs">Δ</text>
<text x="389.40" y="302.90" font-size="14.40" font-style="italic" textLength="10.60" lengthAdjust="spacingAndGlyphs">R</text>
<path d="M405.90,294.76L414.54,298.72L405.90,302.68" stroke="#000" stroke-width="0.75" fill="none" stroke-linejoin="miter"/>
<text x="420.60" y="302.90" font-size="14.40" textLength="18.40" lengthAdjust="spacingAndGlyphs">0.1</text>
<text x="377.40" y="336.30" font-size="14.40" textLength="21.60" lengthAdjust="spacingAndGlyphs">140</text>
<path d="M414.54,328.16L405.90,332.12L414.54,336.08" stroke="#000" stroke-width="0.75" fill="none" stroke-linejoin="miter"/>
<text x="420.50" y="336.30" font-size="14.40" font-style="italic" textLength="9.60" lengthAdjust="spacingAndGlyphs">P</text>
<text x="429.80" y="340.20" font-size="10.10" font-style="italic" textLength="6.60" lengthAdjust="spacingAndGlyphs">T</text>
<text x="431.30" y="328.60" font-size="10.10" textLength="12.50" lengthAdjust="spacingAndGlyphs">jet</text>
<path d="M459.44,328.16L450.80,332.12L459.44,336.08" stroke="#000" stroke-width="0.75" fill="none" stroke-linejoin="miter"/>
<text x="465.80" y="336.30" font-size="14.40" textLength="21.60" lengthAdjust="spacingAndGlyphs">160</text>
<text x="493.40" y="336.30" font-size="14.40" textLength="28.90" lengthAdjust="spacingAndGlyphs">GeV</text>
<text x="618.00" y="59.20" font-size="17.28" textLength="149.00" lengthAdjust="spacingAndGlyphs">Not self-normalized</text>
<text x="618.00" y="319.20" font-size="17.28" textLength="116.60" lengthAdjust="spacingAndGlyphs">Self-normalized</text>
<text x="116.90" y="302.80" font-size="14.40" textLength="32.50" lengthAdjust="spacingAndGlyphs">0-5%</text>
</g>
<rect x="228" y="19.8" width="31.5" height="6.0" fill="#ff0000" fill-opacity="0.5"/>
<rect x="228" y="40.0" width="31.5" height="6.6" fill="url(#hr)"/>
<rect x="228" y="60.4" width="31.5" height="6.0" fill="#0000ff" fill-opacity="0.5"/>
<rect x="228" y="80.2" width="31.5" height="6.7" fill="url(#hb)"/>
</svg>
</body></html>
